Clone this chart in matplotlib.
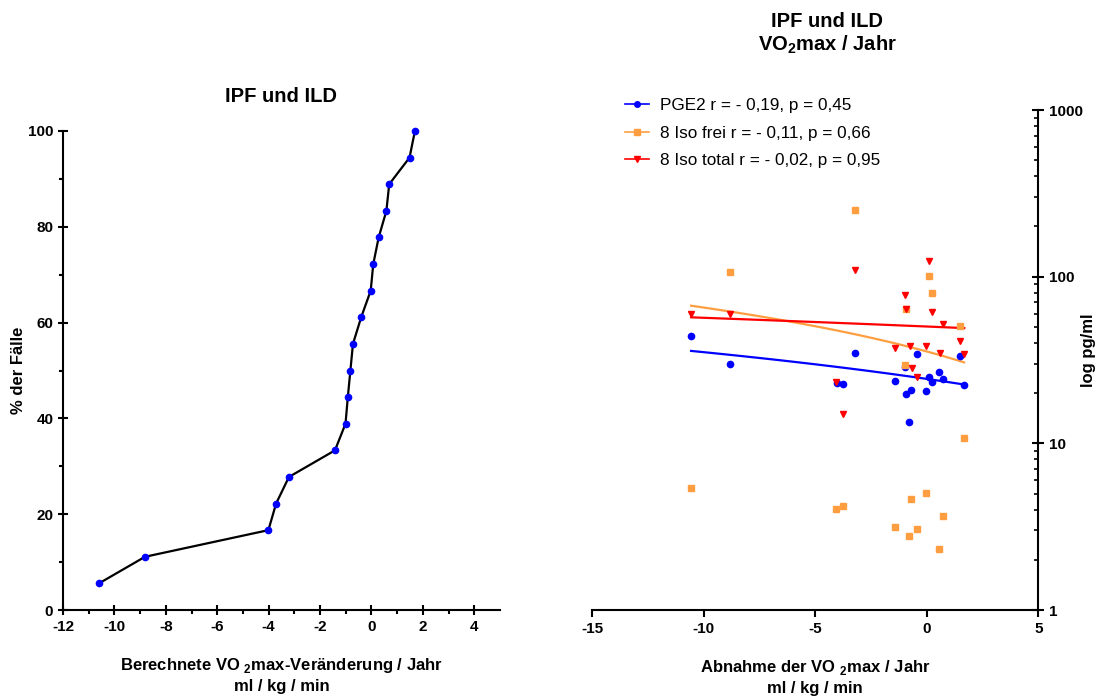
import numpy as np
import matplotlib.pyplot as plt
from matplotlib.ticker import MultipleLocator, LogLocator, NullFormatter, FixedLocator

plt.rcParams['font.family'] = ['Liberation Sans', 'DejaVu Sans']
plt.rcParams['mathtext.fontset'] = 'custom'
plt.rcParams['mathtext.rm'] = 'Liberation Sans'
plt.rcParams['mathtext.bf'] = 'Liberation Sans:bold'
plt.rcParams['axes.unicode_minus'] = False

# linke Grafik: kumulative Verteilung
vo2_change = [-10.60, -8.81, -4.01, -3.71, -3.21, -1.42, -1.01, -0.92, -0.82,
              -0.72, -0.40, -0.03, 0.07, 0.28, 0.58, 0.69, 1.48, 1.69]
pct_cases = [5.56, 11.11, 16.67, 22.22, 27.78, 33.33, 38.89, 44.44, 50.0,
             55.56, 61.11, 66.67, 72.22, 77.78, 83.33, 88.89, 94.44, 100.0]

# rechte Grafik: Marker vs. VO2max-Abnahme
pge2_x = [-10.57, -8.81, -4.02, -3.76, -3.22, -1.41, -0.98, -0.95, -0.78, -0.70,
          -0.44, -0.05, 0.08, 0.25, 0.56, 0.71, 1.49, 1.67]
pge2_y = [44.2, 29.9, 23.0, 22.8, 35.0, 23.5, 28.7, 19.9, 13.4, 21.0,
          34.5, 20.7, 24.9, 23.3, 26.9, 24.4, 33.4, 22.5]

iso_frei_x = [-10.57, -8.81, -4.06, -3.76, -3.21, -1.41, -0.96, -0.95, -0.78, -0.70,
              -0.44, -0.05, 0.08, 0.25, 0.56, 0.71, 1.49, 1.67]
iso_frei_y = [5.42, 107.0, 4.04, 4.19, 252.0, 3.13, 29.6, 64.2, 2.78, 4.61,
              3.05, 5.01, 100.4, 79.4, 2.32, 3.65, 50.5, 10.8]

iso_total_x = [-10.57, -8.81, -4.06, -3.76, -3.21, -1.41, -0.96, -0.95, -0.77, -0.68,
               -0.43, -0.04, 0.10, 0.25, 0.58, 0.71, 1.50, 1.68]
iso_total_y = [59.7, 59.7, 23.2, 14.9, 109.6, 37.3, 77.3, 64.2, 38.2, 28.2,
               25.0, 38.2, 124.7, 61.6, 34.8, 51.8, 41.1, 34.3]

labels = ['PGE2 r = - 0,19, p = 0,45',
          '8 Iso frei r = - 0,11, p = 0,66',
          '8 Iso total r = - 0,02, p = 0,95']

blue = '#0000FF'
orange = '#FF9E40'
red = '#FF0000'

fig = plt.figure(figsize=(10.96, 6.98), dpi=100)
W, H = 1096, 698

# --- links ---
ax1 = fig.add_axes([63 / W, 1 - 610 / H, (500 - 63) / W, (610 - 131) / H])
ax1.plot(vo2_change, pct_cases, color='black', lw=1.6, marker='o',
         ms=4.5, mfc=blue, mec=blue, zorder=3, clip_on=False)
ax1.set_xlim(-12, 5)
ax1.set_ylim(0, 100)
ax1.spines['top'].set_visible(False)
ax1.spines['right'].set_visible(False)
for s in ['left', 'bottom']:
    ax1.spines[s].set_linewidth(1.5)
ax1.xaxis.set_major_locator(FixedLocator(np.arange(-12, 5, 2)))
ax1.xaxis.set_minor_locator(FixedLocator(np.arange(-11, 5, 2)))
ax1.yaxis.set_major_locator(MultipleLocator(20))
ax1.yaxis.set_minor_locator(MultipleLocator(10))
ax1.tick_params(which='major', direction='inout', length=7, width=1.5,
                labelsize=11)
ax1.tick_params(which='minor', direction='out', length=3, width=1.5)
for lab in ax1.get_xticklabels() + ax1.get_yticklabels():
    lab.set_fontweight('bold')
ax1.set_xlabel('Berechnete VO $_\\mathbf{2}$max-Veränderung / Jahr\nml / kg / min',
               fontsize=12, fontweight='bold', labelpad=16, linespacing=1.35)
fig.text(19 / W, 1 - 370 / H, '% der Fälle', rotation=90, ha='center',
         va='center', fontsize=12, fontweight='bold')
fig.text(281 / W, 1 - 97 / H, 'IPF und ILD', ha='center', va='center',
         fontsize=14.5, fontweight='bold')

# --- rechts ---
ax2 = fig.add_axes([592.3 / W, 1 - 610 / H, (1038.3 - 592.3) / W, (610 - 110) / H])
ax2.set_yscale('log')
ax2.set_xlim(-15, 5)
ax2.set_ylim(1, 1000)

series = [(pge2_x, pge2_y, blue, 'o', 4.5),
          (iso_frei_x, iso_frei_y, orange, 's', 4.5),
          (iso_total_x, iso_total_y, red, 'v', 5)]
handles = []
for (xs, ys, c, m, ms), lab in zip(series, labels):
    xs = np.array(xs)
    ys = np.array(ys)
    ax2.plot(xs, ys, ls='none', marker=m, ms=ms, color=c, zorder=3)
    # lineare Regression
    k, d = np.polyfit(xs, ys, 1)
    xf = np.linspace(xs.min(), xs.max(), 60)
    ax2.plot(xf, k * xf + d, color=c, lw=1.6, zorder=2)
    h, = ax2.plot([], [], color=c, lw=1.2, marker=m, ms=4, label=lab)
    handles.append(h)

ax2.spines['top'].set_visible(False)
ax2.spines['left'].set_visible(False)
for s in ['right', 'bottom']:
    ax2.spines[s].set_linewidth(1.5)
ax2.yaxis.tick_right()
ax2.xaxis.set_major_locator(MultipleLocator(5))
ax2.yaxis.set_minor_locator(LogLocator(base=10, subs=np.arange(2, 10), numticks=10))
ax2.yaxis.set_minor_formatter(NullFormatter())
ax2.set_yticks([1, 10, 100, 1000])
ax2.set_yticklabels(['1', '10', '100', '1000'])
ax2.tick_params(axis='x', which='major', direction='out', length=5, width=1.5,
                labelsize=11)
ax2.tick_params(axis='y', which='major', direction='inout', length=8, width=1.5,
                labelsize=11)
ax2.tick_params(axis='y', which='minor', direction='in', length=3, width=1.2)
for lab in ax2.get_xticklabels() + ax2.get_yticklabels():
    lab.set_fontweight('bold')
fig.text(1088 / W, 1 - 350 / H, 'log pg/ml', rotation=90, ha='center',
         va='center', fontsize=12, fontweight='bold')
ax2.set_xlabel('Abnahme der VO $_\\mathbf{2}$max / Jahr\nml / kg / min',
               fontsize=12, fontweight='bold', labelpad=16, linespacing=1.35)
fig.text(827 / W, 1 - 34 / H, 'IPF und ILD\nVO$_\\mathbf{2}$max / Jahr',
         ha='center', va='center', fontsize=14.5, fontweight='bold',
         linespacing=1.15)

fig.legend(handles=handles, loc='upper left',
           bbox_to_anchor=(610 / W, 1 - 83 / H), frameon=False, fontsize=12.3,
           handlelength=1.4, handletextpad=0.6, labelspacing=0.72)

fig.savefig('out.png', dpi=100)
